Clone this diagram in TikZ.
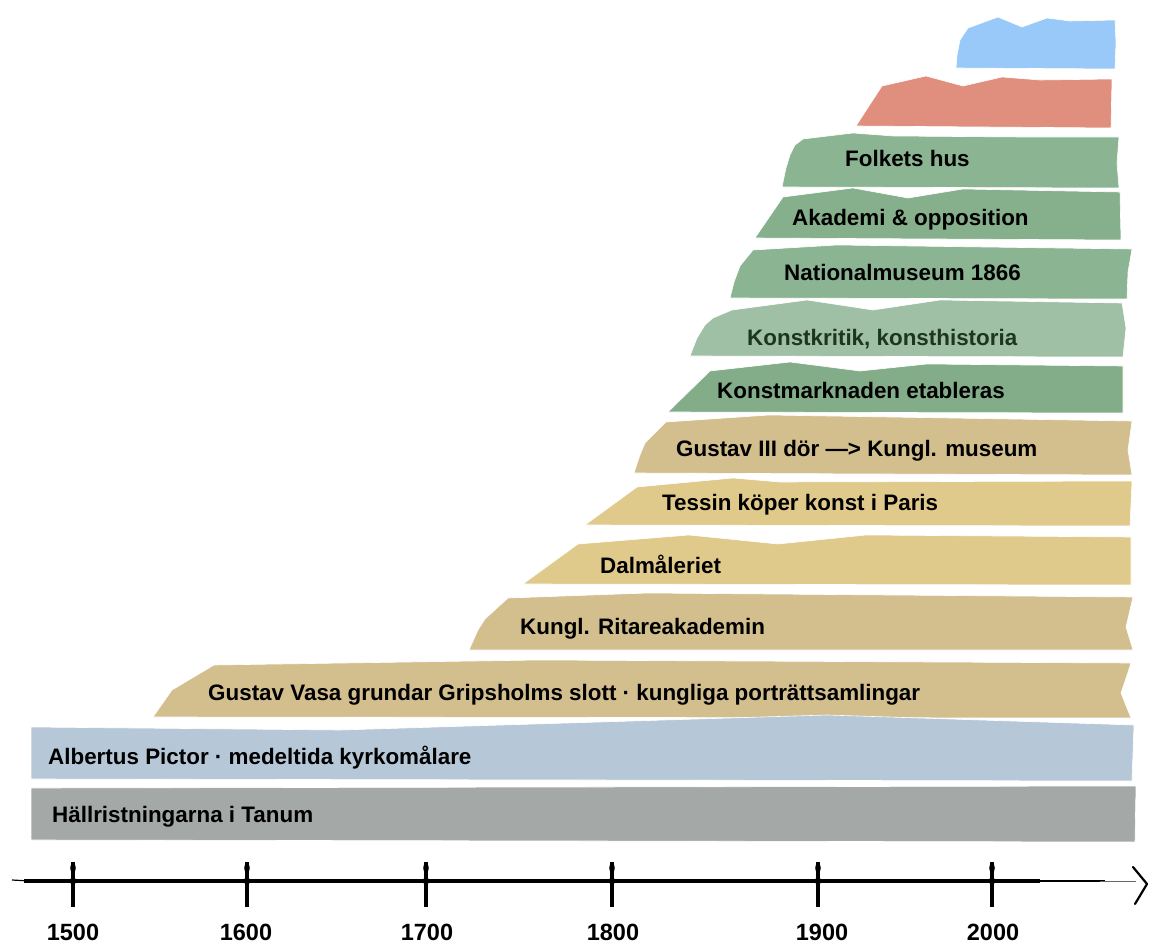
\documentclass[tikz,border=0pt]{standalone}
\usepackage{fontspec}
\setmainfont{Liberation Sans}
\definecolor{cBlue}{HTML}{99C9F9}
\definecolor{cRed}{HTML}{E08E7D}
\definecolor{cGreenA}{HTML}{8AB492}
\definecolor{cGreenB}{HTML}{85B08B}
\definecolor{cGreenL}{HTML}{9FC0A4}
\definecolor{cGreenD}{HTML}{82AD88}
\definecolor{cTan}{HTML}{D3BF8E}
\definecolor{cSand}{HTML}{E0CA8B}
\definecolor{cSlate}{HTML}{B6C7D8}
\definecolor{cGrey}{HTML}{A4A8A7}
\definecolor{cDarkGreen}{HTML}{1C3620}
\begin{document}
\begin{tikzpicture}[x=1pt,y=-1pt,
  lbl/.style={anchor=base west, font=\fontsize{22.4}{26}\selectfont\bfseries, inner sep=0pt},
  yr/.style={anchor=base, font=\fontsize{23.5}{27}\selectfont\bfseries, inner sep=0pt},
  tick/.style={line width=4.2pt},
  band/.style={draw=white, line width=0.6pt, line join=round}]
\useasboundingbox (0,0) rectangle (1149,944);

% ---- bands (top to bottom)
\fill[cBlue, band] (956,68) -- (957,55) -- (960,40) -- (968,28) -- (998,17) -- (1022,27) -- (1047,18) -- (1070,21) -- (1115,20) -- (1116,43) -- (1115,69) -- cycle;
\fill[cRed, band] (856,126) -- (882,86) -- (926,76) -- (963,86) -- (1002,77) -- (1040,80) -- (1112,79) -- (1111,128) -- cycle;
\fill[cGreenA, band] (782,187) -- (786,168) -- (790,155) -- (795,145) -- (803,139) -- (853,133) -- (893,136) -- (1023,137) -- (1119,137) -- (1117,163) -- (1119,188) -- cycle;
\fill[cGreenB, band] (755,238) -- (783,197) -- (853,188) -- (908,198) -- (963,189) -- (1120,192) -- (1121,240) -- cycle;
\fill[cGreenA, band] (730,298) -- (734,282) -- (740,266) -- (753,250) -- (837,245) -- (1132,249) -- (1128,272) -- (1127,299) -- cycle;
\fill[cGreenL, band] (690,356) -- (697,338) -- (705,325) -- (713,318) -- (732,310) -- (807,300) -- (873,310) -- (940,300) -- (1122,303) -- (1126,328) -- (1123,357) -- cycle;
\fill[cGreenD, band] (668,412) -- (710,371) -- (790,362) -- (860,371) -- (927,364) -- (1123,366) -- (1123,413) -- cycle;
\fill[cTan, band] (634,473) -- (640,455) -- (645,443) -- (666,422) -- (769,415) -- (1132,421) -- (1128,450) -- (1132,475) -- cycle;
\fill[cSand, band] (585,525) -- (637,487) -- (733,478) -- (780,482) -- (1132,481) -- (1130,526) -- cycle;
\fill[cSand, band] (523,584) -- (578,544) -- (689,535) -- (778,544) -- (866,535) -- (1131,537) -- (1131,585) -- cycle;
\fill[cTan, band] (469,650) -- (478,630) -- (485,619) -- (508,598) -- (648,593) -- (1133,597) -- (1126,627) -- (1133,650) -- cycle;
\fill[cTan, band] (153,717) -- (172,690) -- (214,665) -- (539,660) -- (1131,663) -- (1121,693) -- (1131,718) -- cycle;
\fill[cSlate, band] (31,779) -- (31,727) -- (340,730) -- (827,715) -- (1134,725) -- (1132,781) -- cycle;
\fill[cGrey, band] (31,840) -- (31,788) -- (1136,786) -- (1135,842) -- cycle;

% ---- labels
\node[lbl] (folkets) at (845,167) {Folkets hus};
\node[lbl] (akademi) at (792,226) {Akademi \& opposition};
\node[lbl] (nationalm) at (784,280) {Nationalmuseum 1866};
\node[lbl, text=cDarkGreen] (kritik) at (747,345) {Konstkritik, konsthistoria};
\node[lbl] (marknad) at (717,398) {Konstmarknaden etableras};
\node[lbl] (gustav3) at (676,456) {Gustav III dör —> Kungl. museum};
\node[lbl] (tessin) at (662,510) {Tessin köper konst i Paris};
\node[lbl] (dalm) at (600,573) {Dalmåleriet};
\node[lbl] (ritare) at (520,634) {Kungl. Ritareakademin};
\node[lbl] (vasa) at (208,700) {Gustav Vasa grundar Gripsholms slott · kungliga porträttsamlingar};
\node[lbl] (albertus) at (48,764) {Albertus Pictor · medeltida kyrkomålare};
\node[lbl] (tanum) at (52,822) {Hällristningarna i Tanum};

% ---- axis
\coordinate (axL) at (12,880);
\coordinate (axA) at (30,881);
\coordinate (axB) at (1040,881);
\coordinate (axC) at (1105,881);
\coordinate (axR) at (1136,881);
\draw[line width=1.2pt] (axL) -- (axA);
\draw[line width=3.6pt] ([xshift=-6pt]axA) -- (axB);
\draw[line width=2pt] ([xshift=-10pt]axB) -- (axC);
\draw[line width=0.8pt, black!60] ([xshift=-5pt]axC) -- (axR);
\coordinate (ahT) at (1133,867);
\coordinate (ahM) at (1147,884);
\coordinate (ahB) at (1135,904);
\draw[line width=2.2pt, line cap=round, line join=round] (ahT) -- (ahM) -- (ahB);

\foreach \x/\lx/\y [count=\i] in {73/73/1500, 247/246/1600, 426/427/1700, 612/613/1800, 818/822/1900, 992/993/2000} {
  \coordinate (t\i a) at (\x,862);
  \coordinate (t\i b) at (\x,907);
  \draw[tick] (t\i a) -- (t\i b);
  \fill ([yshift=-6pt]t\i a) ellipse (2.8pt and 5pt);
  \fill (\x,881) ellipse (3pt and 4pt);
  \node[yr] (y\i) at (\lx,940) {\y};
}
\end{tikzpicture}
\end{document}
